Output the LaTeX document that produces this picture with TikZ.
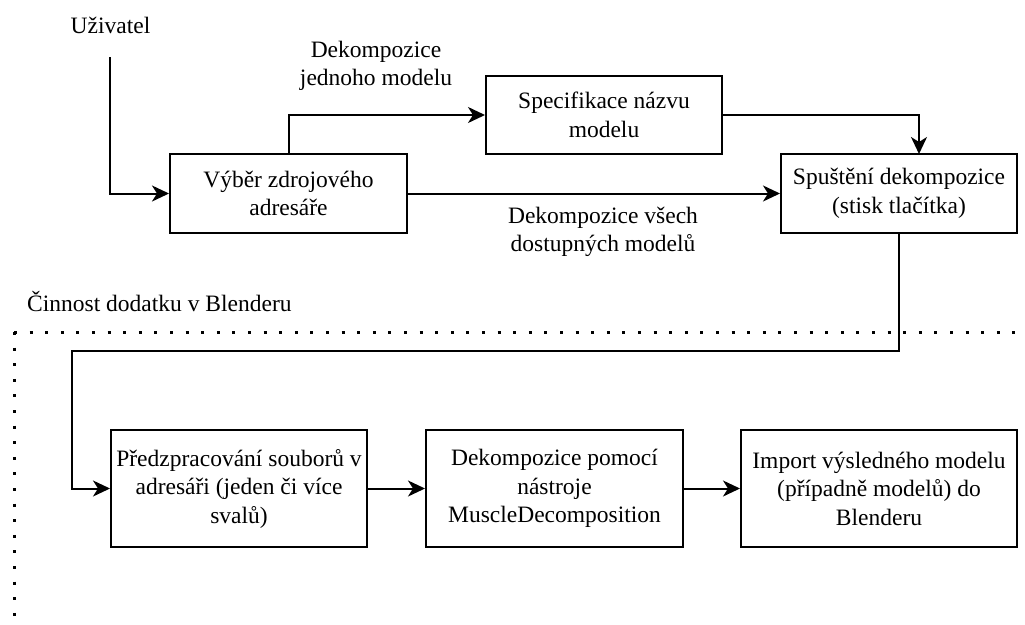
\documentclass[tikz,border=0pt]{standalone}
\usepackage{fontspec}
\setmainfont{Liberation Serif}
\usetikzlibrary{arrows.meta}
\begin{document}
\begin{tikzpicture}[x=1pt,y=-1pt,
  every node/.style={font=\fontsize{23.5}{28.5}\selectfont, align=center, inner sep=0pt},
  boxnode/.style={draw, line width=2pt, rectangle},
  arr/.style={line width=2pt, -{Stealth[length=17pt,width=16pt,inset=5pt]}},
  dotline/.style={line width=3pt, dash pattern=on 3pt off 12.6pt}
]
\useasboundingbox (0,0) rectangle (1025,624);

% boxes
\node[boxnode, minimum width=237pt, minimum height=79pt] (b1) at (288.5,193.5) {Výběr zdrojového\\adresáře};
\node[boxnode, minimum width=236pt, minimum height=78pt] (b2) at (604,115) {Specifikace názvu\\modelu};
\node[boxnode, minimum width=236pt, minimum height=79pt] (b3) at (899,193.5) {Spuštění dekompozice\\(stisk tlačítka)};
\node[boxnode, minimum width=256pt, minimum height=117pt] (b4) at (239,488.5) {Předzpracování souborů v\\adresáři (jeden či více\\svalů)};
\node[boxnode, minimum width=257pt, minimum height=117pt] (b5) at (554.5,488.5) {Dekompozice pomocí\\nástroje\\MuscleDecomposition};
\node[boxnode, minimum width=276pt, minimum height=117pt] (b6) at (879,488.5) {Import výsledného modelu\\(případně modelů) do\\Blenderu};

% labels
\node (uz) at (110.5,25) {Uživatel};
\node (l1) at (376,66) {Dekompozice\\jednoho modelu};
\node (l2) at (603,232) {Dekompozice všech\\dostupných modelů};
\node[anchor=west] (l3) at (27,302) {Činnost dodatku v Blenderu};

% dotted region border
\coordinate (dc) at (14,332);
\coordinate (dr) at (1030,332);
\coordinate (db) at (14,640);
\draw[dotline] (dc) -- (dr);
\draw[dotline] (dc) -- (db);

% connectors
\coordinate (u) at (110,57);
\coordinate (b3in) at (919,154);
\coordinate (c1) at (72,351);
\draw[arr] (u) |- (b1.west);
\draw[arr] (b1.north) |- (b2.west);
\draw[arr] (b2.east) -| (b3in);
\draw[arr] (b1.east) -- (b3.west);
\draw[arr] (b3.south) |- (c1) |- (b4.west);
\draw[arr] (b4.east) -- (b5.west);
\draw[arr] (b5.east) -- (b6.west);
\end{tikzpicture}
\end{document}
